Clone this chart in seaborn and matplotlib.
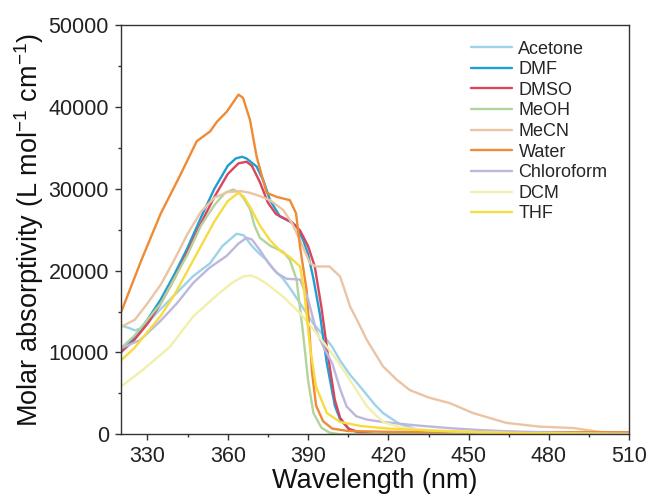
import numpy as np
import pandas as pd
import matplotlib
matplotlib.use("Agg")
import matplotlib.pyplot as plt
import seaborn as sns

# ---------------- data ----------------
solvents = ["Acetone", "DMF", "DMSO", "MeOH", "MeCN", "Water", "Chloroform", "DCM", "THF"]
colors = ["#9dd3ea", "#1e9fd0", "#d9455f", "#b3d39c", "#ebc4a4", "#ef8a35", "#bdb7dd", "#f2efad", "#f7dc40"]

acetone_x = [320, 323, 325.3, 328.4, 334, 341, 347, 353.4, 358, 363.3, 366, 369, 372, 374.5, 377, 380.7, 384, 388, 392, 396, 399, 402, 405.6, 409, 412, 415, 418, 424, 430.5, 440, 460, 510]
acetone_y = [13300, 13000, 12700, 13000, 15000, 17300, 19300, 20900, 23000, 24500, 24300, 23000, 22000, 21300, 20200, 19000, 17500, 15500, 13500, 12000, 10700, 9000, 7300, 6000, 4800, 3600, 2600, 1300, 600, 300, 100, 0]

dmf_x = [320, 325, 330, 335, 340, 345, 350, 355, 360, 363, 365.3, 367, 370.8, 373.3, 375.8, 379.5, 383.2, 385.7, 388.2, 390, 392, 394.5, 397, 400, 402, 405.7, 410, 415, 510]
dmf_y = [10000, 11800, 14000, 16500, 19500, 22800, 26500, 30000, 32800, 33700, 33900, 33700, 32700, 31000, 28600, 26600, 26000, 25400, 23700, 22000, 19000, 14500, 8700, 3500, 1800, 530, 150, 0, 0]

dmso_x = [320, 325, 330, 335, 340, 345, 350, 355, 360, 364, 367, 369, 372, 375, 378, 381, 384, 387, 390, 392.5, 395, 397.5, 400, 402, 405, 410, 416, 510]
dmso_y = [10000, 11500, 13500, 16000, 19000, 22300, 25800, 29000, 31800, 33100, 33300, 32800, 30800, 28300, 26900, 26400, 25900, 24900, 23000, 20500, 15500, 9500, 4200, 2000, 700, 150, 0, 0]

meoh_x = [320, 325, 330, 335, 340, 345, 350, 355, 359, 362, 364, 366, 368.3, 370, 372, 376, 380.7, 383.2, 385.7, 388, 390, 392, 395, 398, 402, 510]
meoh_y = [10500, 12000, 14000, 16000, 19000, 22000, 25500, 28000, 29500, 29900, 29600, 28800, 27500, 25500, 24000, 23000, 22300, 21300, 18900, 12700, 6600, 2600, 800, 200, 0, 0]

mecn_x = [320, 325.3, 330, 335, 340, 345, 350, 355, 360, 365, 368.3, 372, 375.8, 380.7, 384, 387, 390.7, 393, 398, 401.9, 403.5, 405.7, 409, 412, 418, 423, 428, 435, 443, 451.6, 464, 476.6, 489, 499, 510]
mecn_y = [13100, 14000, 16000, 18300, 21300, 24500, 27200, 28900, 29600, 29700, 29500, 29100, 28600, 27400, 25800, 23700, 20900, 20500, 20500, 19300, 17800, 15600, 13500, 11500, 8300, 6700, 5400, 4500, 3800, 2600, 1400, 930, 770, 280, 200]

water_x = [320, 328, 335, 342, 348.4, 353.4, 356, 359.6, 364, 365.7, 368.3, 370.8, 374.5, 378.3, 383.2, 385.5, 387, 389.5, 390.5, 391.5, 393, 395.6, 399, 405, 420, 510]
water_y = [14800, 21500, 27000, 31500, 35800, 37000, 38200, 39400, 41500, 41100, 38400, 33900, 29500, 29000, 28600, 27000, 22900, 17500, 12500, 7500, 3500, 1600, 700, 400, 300, 250]

chloro_x = [320, 327.2, 334.7, 341, 347.1, 353, 359.6, 364, 367, 369, 372, 375, 378.3, 382, 387, 390, 393, 396, 399, 402, 404.4, 408, 412, 418, 430, 443, 455, 470, 490, 510]
chloro_y = [10500, 11500, 13800, 16000, 18500, 20300, 21800, 23300, 24000, 23800, 22500, 21000, 19700, 19000, 18900, 16500, 12700, 10500, 8700, 5500, 3400, 2200, 1800, 1500, 1100, 750, 500, 300, 150, 100]

dcm_x = [320, 328.4, 338.4, 347.1, 357, 362, 366, 368.5, 371, 374.5, 380.7, 387, 393, 400.7, 405.7, 412, 418, 425, 435, 450, 470, 510]
dcm_y = [5800, 7900, 10700, 14400, 17300, 18600, 19300, 19400, 19100, 18400, 16800, 14800, 12400, 9100, 6600, 3400, 1500, 800, 500, 300, 100, 0]

thf_x = [320, 325, 330, 335, 340, 345, 350, 355, 360, 364, 366, 368.3, 372, 375.8, 380, 383, 387, 388.5, 390.7, 393, 397, 402, 410, 420, 440, 460, 480, 510]
thf_y = [9000, 10500, 12500, 14500, 17000, 20000, 23000, 26000, 28500, 29500, 29000, 27800, 25500, 23700, 22300, 21700, 20500, 17600, 10700, 5800, 2600, 1500, 1000, 700, 400, 200, 100, 0]

x_ticks = [330, 360, 390, 420, 450, 480, 510]
y_ticks = [0, 10000, 20000, 30000, 40000, 50000]

series = {
    "Acetone": (acetone_x, acetone_y),
    "DMF": (dmf_x, dmf_y),
    "DMSO": (dmso_x, dmso_y),
    "MeOH": (meoh_x, meoh_y),
    "MeCN": (mecn_x, mecn_y),
    "Water": (water_x, water_y),
    "Chloroform": (chloro_x, chloro_y),
    "DCM": (dcm_x, dcm_y),
    "THF": (thf_x, thf_y),
}

rows = []
for name in solvents:
    xs, ys = series[name]
    for xv, yv in zip(xs, ys):
        rows.append((name, xv, yv))
df = pd.DataFrame(rows, columns=["Solvent", "Wavelength", "Absorptivity"])

# ---------------- style ----------------
sns.set_theme(style="ticks")
plt.rcParams["font.family"] = ["Liberation Sans", "DejaVu Sans"]
plt.rcParams["mathtext.fontset"] = "custom"
plt.rcParams["mathtext.rm"] = "Liberation Sans"
plt.rcParams["mathtext.default"] = "regular"

fig = plt.figure(figsize=(6.5, 5.0), dpi=100)
ax = fig.add_axes([0.1857, 0.1314, 0.7824, 0.8186])

palette = dict(zip(solvents, colors))
sns.lineplot(data=df, x="Wavelength", y="Absorptivity", hue="Solvent",
             hue_order=solvents, palette=palette, linewidth=1.7,
             sort=False, estimator=None, ax=ax)

ax.set_xlim(320, 510)
ax.set_ylim(0, 50000)
ax.set_xticks(x_ticks)
ax.set_yticks(y_ticks)
ax.set_xticks([345, 375, 405, 435, 465, 495], minor=True)
ax.set_yticks([5000, 15000, 25000, 35000, 45000], minor=True)

for s in ax.spines.values():
    s.set_visible(True)
    s.set_linewidth(1.0)
    s.set_color("#333333")
ax.tick_params(axis="both", which="major", direction="out", length=4.5, width=1.0,
               color="#333333", labelsize=15.5, labelcolor="#222222", pad=4)
ax.tick_params(axis="both", which="minor", direction="out", length=2.5, width=1.0,
               color="#333333")
ax.tick_params(top=False, right=False, which="both")

ax.set_xlabel("Wavelength (nm)", fontsize=19.5, color="#111111", labelpad=1)
ax.set_ylabel("Molar absorptivity (L mol$^{-1}$ cm$^{-1}$)", fontsize=19.5,
              color="#111111", labelpad=2)

handles, labels = ax.get_legend_handles_labels()
ax.legend(handles, labels, loc="upper left", bbox_to_anchor=(0.688, 0.962),
          frameon=False, fontsize=13, handlelength=2.3, handletextpad=0.35,
          labelspacing=0.2, borderpad=0, borderaxespad=0)

fig.savefig("out.png", dpi=100)
